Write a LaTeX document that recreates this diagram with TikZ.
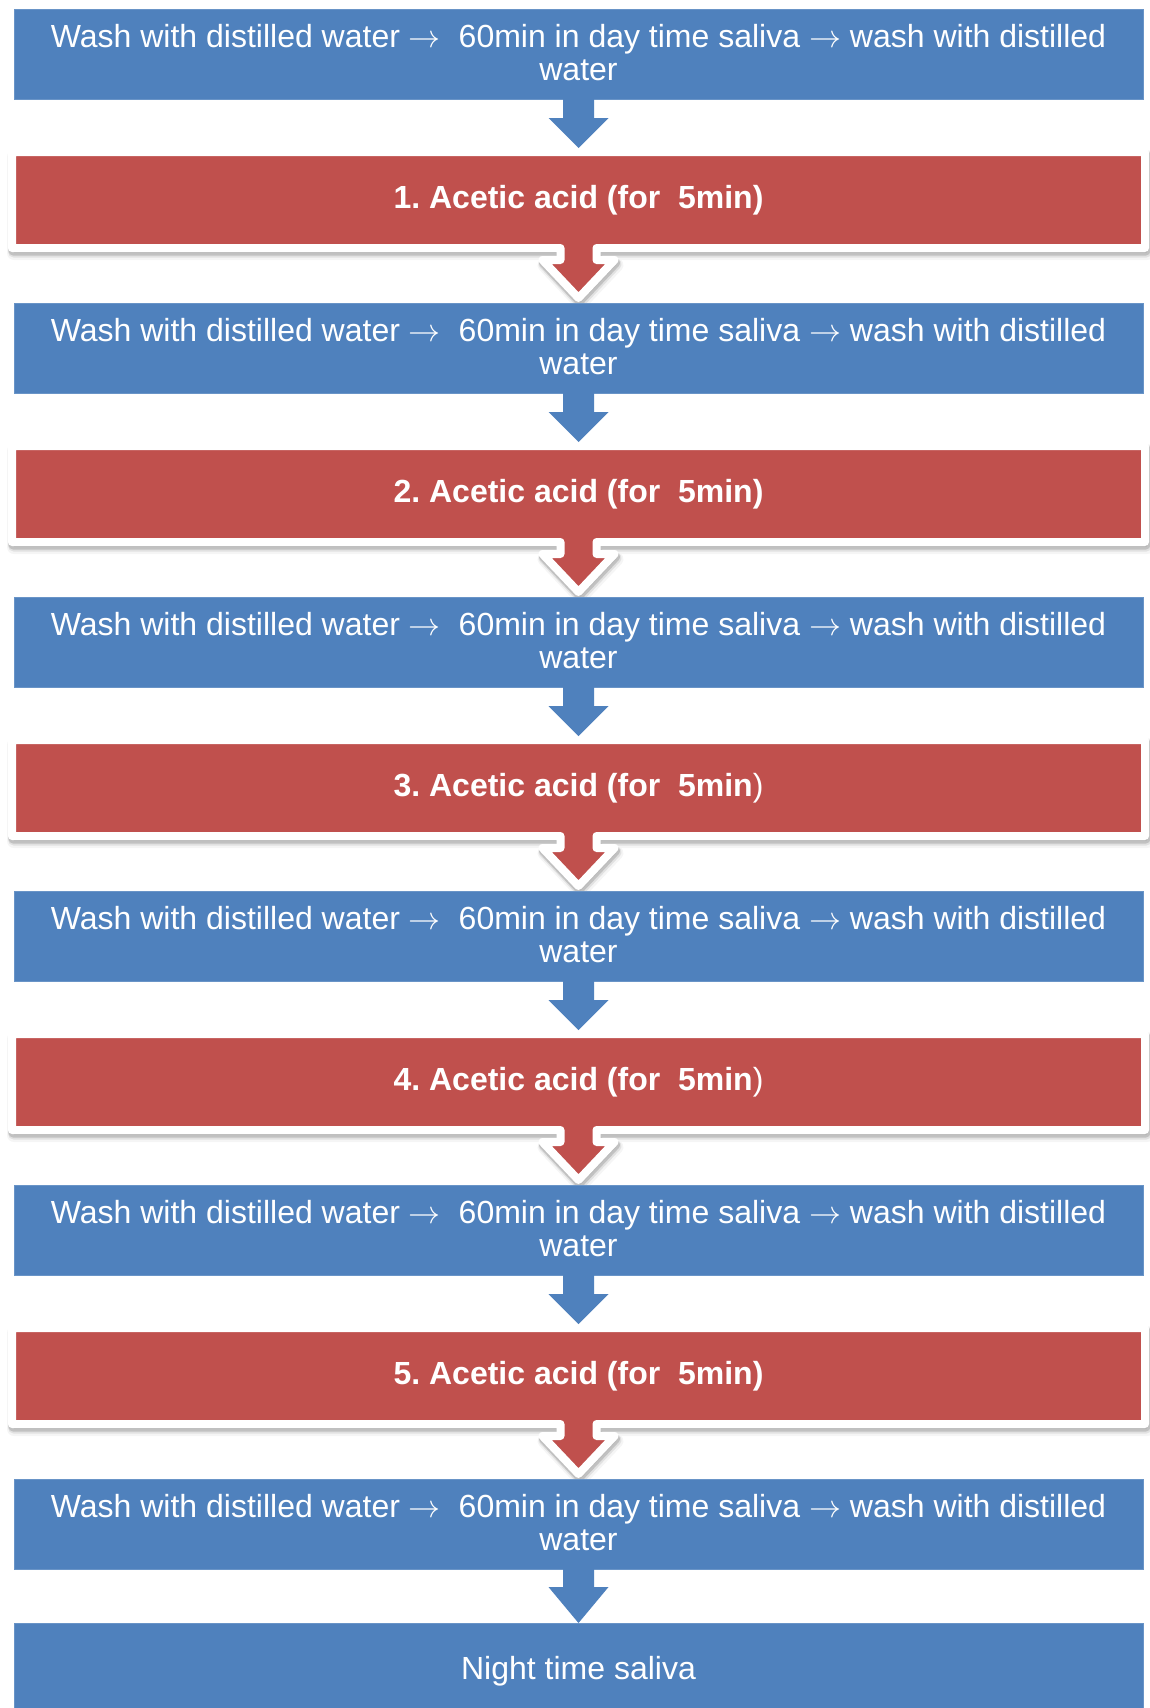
\RequirePackage{fix-cm}
\documentclass[tikz,border=0pt]{standalone}
\usepackage{fontspec}
\setmainfont{Liberation Sans}
\usetikzlibrary{calc}
\definecolor{blueC}{HTML}{4F81BD}
\definecolor{redC}{HTML}{C0504D}
\pgfdeclarelayer{back}
\pgfdeclarelayer{bg}
\pgfsetlayers{back,bg,main}
\frenchspacing
\tikzset{
  bluebox/.style={fill=blueC, draw=blueC!85!white, line width=1pt,
    minimum width=1129pt, minimum height=90pt, inner sep=0pt, outer sep=0pt,
    text=white, align=center, font=\fontsize{32}{33}\selectfont,
    text height=56pt, text depth=4pt},
  nightbox/.style={fill=blueC, draw=blueC!85!white, line width=1pt,
    minimum width=1129pt, minimum height=90pt, inner sep=0pt, outer sep=0pt,
    text=white, font=\fontsize{32}{33}\selectfont,
    text height=23pt, text depth=0pt},
  redbox/.style={minimum width=1133pt, minimum height=96pt, inner sep=0pt,
    outer sep=0pt, text=white, font=\fontsize{32}{33}\selectfont\bfseries,
    text height=23pt, text depth=6pt},
  redframe/.style={fill=redC, draw=white, line width=8pt, line join=round},
  shadowlayer/.style={draw=black, fill=black, line join=round},
  redpath/.style={insert path={
    (#1.north west) -- (#1.north east) -- (#1.south east)
    -- ($(#1.south)+(18,0)$) -- ($(#1.south)+(18,12)$)
    -- ($(#1.south)+(36,12)$) -- ($(#1.south)+(0,50)$)
    -- ($(#1.south)+(-36,12)$) -- ($(#1.south)+(-18,12)$)
    -- ($(#1.south)+(-18,0)$) -- (#1.south west) -- cycle}},
  bluearrowpath/.style n args={3}{insert path={
    ($(#1.south)+(-15.5,-1)$) -- ($(#2)+(-15.5,-#3)$) -- ($(#2)+(-30,-#3)$)
    -- (#2) -- ($(#2)+(30,-#3)$) -- ($(#2)+(15.5,-#3)$)
    -- ($(#1.south)+(15.5,-1)$) -- cycle}},
}
\newcommand\redblock[1]{%
  \begin{pgfonlayer}{bg}
    \path[shadowlayer, line width=14pt, opacity=0.04,
      transform canvas={shift={(2pt,-5pt)}}, redpath=#1];
    \path[shadowlayer, line width=11pt, opacity=0.08,
      transform canvas={shift={(1.5pt,-4pt)}}, redpath=#1];
    \path[shadowlayer, line width=9pt, opacity=0.14,
      transform canvas={shift={(1pt,-3pt)}}, redpath=#1];
    \path[redframe, redpath=#1];
  \end{pgfonlayer}}
\newcommand\washtext{Wash with distilled water $\rightarrow$\ \ 60min in day time saliva $\rightarrow$ wash with distilled\\water}
\begin{document}
\begin{tikzpicture}[x=1pt,y=-1pt]
  \begin{pgfonlayer}{back}
    \fill[white] (0,0) rectangle (1149,1708);
  \end{pgfonlayer}
  \useasboundingbox (0,0) rectangle (1149,1708);
  % blue boxes
  \node[bluebox] (b0) at (578.5,54)   {\washtext};
  \node[bluebox] (b1) at (578.5,348)  {\washtext};
  \node[bluebox] (b2) at (578.5,642)  {\washtext};
  \node[bluebox] (b3) at (578.5,936)  {\washtext};
  \node[bluebox] (b4) at (578.5,1230) {\washtext};
  \node[bluebox] (b5) at (578.5,1524) {\washtext};
  \node[nightbox] (n) at (578.5,1668) {Night time saliva};
  % red boxes
  \node[redbox] (r0) at (578.5,200)  {1. Acetic acid (for\ \ 5min)};
  \node[redbox] (r1) at (578.5,494)  {2. Acetic acid (for\ \ 5min)};
  \node[redbox] (r2) at (578.5,788)  {3. Acetic acid (for\ \ 5min{\mdseries)}};
  \node[redbox] (r3) at (578.5,1082) {4. Acetic acid (for\ \ 5min{\mdseries)}};
  \node[redbox] (r4) at (578.5,1376) {5. Acetic acid (for\ \ 5min)};
  \redblock{r0}
  \redblock{r1}
  \redblock{r2}
  \redblock{r3}
  \redblock{r4}
  % tips of the blue arrows
  \coordinate (t0) at ($(r0.north)+(0,-4)$);
  \coordinate (t1) at ($(r1.north)+(0,-4)$);
  \coordinate (t2) at ($(r2.north)+(0,-4)$);
  \coordinate (t3) at ($(r3.north)+(0,-4)$);
  \coordinate (t4) at ($(r4.north)+(0,-4)$);
  % blue block arrows
  \fill[blueC, bluearrowpath={b0}{t0}{30}];
  \fill[blueC, bluearrowpath={b1}{t1}{30}];
  \fill[blueC, bluearrowpath={b2}{t2}{30}];
  \fill[blueC, bluearrowpath={b3}{t3}{30}];
  \fill[blueC, bluearrowpath={b4}{t4}{30}];
  \fill[blueC, bluearrowpath={b5}{n.north}{36}];
\end{tikzpicture}
\end{document}
